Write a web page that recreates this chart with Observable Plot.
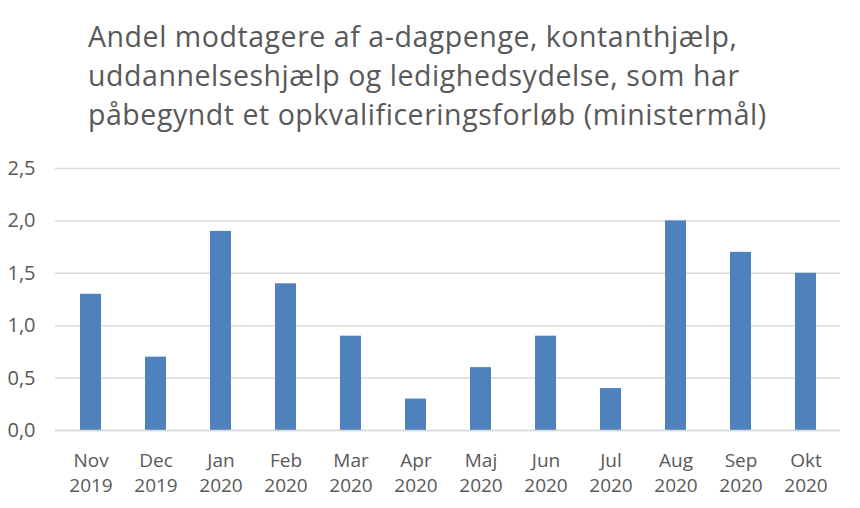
<!DOCTYPE html>
<html>
<head>
<meta charset="utf-8">
<script src="https://cdn.jsdelivr.net/npm/d3@7"></script>
<script src="https://cdn.jsdelivr.net/npm/@observablehq/plot@0.6"></script>
<style>
  body { margin: 0; background: #fff; font-family: "Open Sans", "Noto Sans", sans-serif; }
  #title { position: absolute; left: 88px; top: 17px; font-size: 28.5px; letter-spacing: 0.55px; line-height: 39px; color: #595959; white-space: nowrap; }
  #chart { position: absolute; left: 0; top: 145px; }
</style>
</head>
<body>
<div id="title">Andel modtagere af a-dagpenge, kontanthjælp,<br>uddannelseshjælp og ledighedsydelse, som har<br>påbegyndt et opkvalificeringsforløb (ministermål)</div>
<div id="chart"></div>
<script>
const months = ["Nov", "Dec", "Jan", "Feb", "Mar", "Apr", "Maj", "Jun", "Jul", "Aug", "Sep", "Okt"];
const years = ["2019", "2019", "2020", "2020", "2020", "2020", "2020", "2020", "2020", "2020", "2020", "2020"];
const values = [1.3, 0.7, 1.9, 1.4, 0.9, 0.3, 0.6, 0.9, 0.4, 2.0, 1.7, 1.5];
const yTicks = [0, 0.5, 1.0, 1.5, 2.0, 2.5];

const labels = months.map((m, i) => m + "\n" + years[i]);
const data = labels.map((l, i) => ({label: l, value: values[i]}));
const fmt = d => d.toFixed(1).replace(".", ",");

const chart = Plot.plot({
  width: 860,
  height: 363,
  marginTop: 23,
  marginBottom: 78,
  marginLeft: 55,
  marginRight: 20,
  style: {fontFamily: "'Open Sans', 'Noto Sans', sans-serif", fontSize: "19px", color: "#595959"},
  x: {domain: labels, padding: 0},
  y: {domain: [0, 2.5]},
  marks: [
    Plot.gridY(yTicks, {stroke: "#d9d9d9", strokeOpacity: 1, strokeWidth: 1.5}),
    Plot.barY(data, {x: "label", y: "value", fill: "#4f81bd", insetLeft: 22, insetRight: 22}),
    Plot.axisY(yTicks, {tickSize: 0, tickPadding: 20, tickFormat: fmt, fontSize: 20, fill: "#595959", label: null}),
    Plot.axisX({tickSize: 0, tickPadding: 19, fontSize: 19, fill: "#595959", lineHeight: 1.3, label: null}),
    Plot.ruleY([0], {stroke: "#d9d9d9", strokeWidth: 1.5})
  ]
});
document.getElementById("chart").appendChild(chart);
</script>
</body>
</html>
